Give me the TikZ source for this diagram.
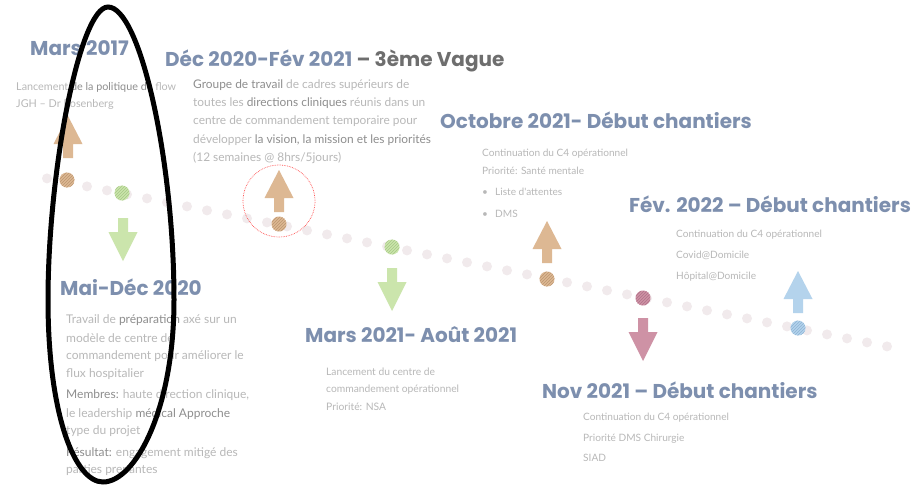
\documentclass[tikz,border=0pt]{standalone}
\usepackage{fontspec}
\newfontfamily\titlef{Poppins}
\newfontfamily\bodyf{Lato}
\usetikzlibrary{patterns}
\definecolor{titlec}{HTML}{7D8FAE}
\definecolor{titled}{HTML}{6E6E6E}
\definecolor{bodyc}{HTML}{B8B8B8}
\definecolor{bodyd}{HTML}{8E8E8E}
\definecolor{dotc}{HTML}{F1EAEC}
\definecolor{brownc}{HTML}{DDB893}
\definecolor{brownd}{HTML}{BC9670}
\definecolor{greenc}{HTML}{CBE5AC}
\definecolor{greend}{HTML}{A6C885}
\definecolor{crimc}{HTML}{CE92A5}
\definecolor{crimd}{HTML}{B0728A}
\definecolor{bluec}{HTML}{B4D3EC}
\definecolor{blued}{HTML}{8EB4D4}
\tikzset{
  ttl/.style={font=\titlef\bfseries\fontsize{20}{22}\selectfont, text=titlec, anchor=base west, inner sep=0pt},
  bdy/.style={font=\bodyf\fontsize{#1}{14}\selectfont, text=bodyc, anchor=base west, inner sep=0pt},
  bdy/.default=11,
  uparr/.pic={\path[pic actions] (-5,0) -- (-5,-14) -- (-14.5,-14) -- (0,-42) -- (14.5,-14) -- (5,-14) -- (5,0) -- cycle;},
  dnarr/.pic={\path[pic actions] (-5,0) -- (-5,14) -- (-14.5,14) -- (0,43) -- (14.5,14) -- (5,14) -- (5,0) -- cycle;},
  hatch/.style={fill=#1c, postaction={pattern=north east lines, pattern color=#1d}},
}
\newcommand\dk[1]{\textcolor{bodyd}{#1}}
\begin{document}
\begin{tikzpicture}[x=1pt,y=-1pt]
\useasboundingbox (0,0) rectangle (920,485);
\fill[white] (0,0) rectangle (920,485);

% dotted timeline
\foreach \k in {0,...,42}{
  \pgfmathsetmacro\xx{47+20*\k}
  \pgfmathsetmacro\yy{178+0.2*(\xx-45)}
  \fill[dotc] (\xx,\yy) circle (5pt);
}

% milestone dots
\fill[hatch=brown] (67,180) circle (7.5pt);
\fill[hatch=green] (122,193) circle (7.5pt);
\fill[hatch=brown] (279,224) circle (7.5pt);
\fill[hatch=green] (392,247) circle (7.5pt);
\fill[hatch=brown] (547,279) circle (7.5pt);
\fill[hatch=crim] (643,298) circle (7.5pt);
\fill[hatch=blue] (798,328) circle (7.5pt);

% arrows
\pic[hatch=brown] at (68,158) {uparr};
\pic[hatch=green] at (123,218) {dnarr};
\pic[hatch=brown] at (279,212) {uparr};
\pic[hatch=green] at (392,268) {dnarr};
\pic[hatch=brown] at (547,263) {uparr};
\pic[hatch=crim] at (643,318) {dnarr};
\pic[hatch=blue] at (798,313) {uparr};

% red dashed circle
\draw[red!70, densely dotted, line width=0.7pt] (279,201) circle (36pt);

% titles
\node[ttl] (t1) at (30,55) {Mars 2017};
\node[ttl] (t2) at (165,66) {Déc 2020-Fév 2021 \textcolor{titled}{– 3ème Vague}};
\node[ttl] (t3) at (440,128) {Octobre 2021- Début chantiers};
\node[ttl] (t4) at (629,212) {Fév. 2022 – Début chantiers};
\node[ttl] (t5) at (60,295) {Mai-Déc 2020};
\node[ttl] (t6) at (305,342) {Mars 2021- Août 2021};
\node[ttl] (t7) at (542,398) {Nov 2021 – Début chantiers};

% Mars 2017
\node[bdy=10.8] (a1) at (16,90) {Lancement \dk{de la politique de} flow};
\node[bdy=10.8] (a2) at (16,107) {JGH – Dr Rosenberg};

% Déc 2020
\node[bdy=11.9] (b1) at (193,88) {\dk{Groupe de travail} de cadres supérieurs de};
\node[bdy=11.9] (b2) at (193,106) {toutes les \dk{directions cliniques} réunis dans un};
\node[bdy=11.9] (b3) at (193,124) {centre de commandement temporaire pour};
\node[bdy=11.9] (b4) at (193,143) {développer \dk{la vision, la mission et les priorités}};
\node[bdy=11.9] (b5) at (193,161) {(12 semaines @ 8hrs/5jours)};

% Octobre 2021
\node[bdy=10.1] (c1) at (482,156) {Continuation du C4 opérationnel};
\node[bdy=10.1] (c2) at (482,174) {Priorité: Santé mentale};
\node[bdy=10.1] (c3b) at (482,195) {•};
\node[bdy=10.1] (c3) at (495,195) {Liste d'attentes};
\node[bdy=10.1] (c4b) at (482,217) {•};
\node[bdy=10.1] (c4) at (495,217) {DMS};

% Fév 2022
\node[bdy=10.1] (d1) at (676,237) {Continuation du C4 opérationnel};
\node[bdy=10.1] (d2) at (676,258) {Covid@Domicile};
\node[bdy=10.1] (d3) at (676,279) {Hôpital@Domicile};

% Mai-Déc 2020
\node[bdy=12] (e1) at (66,323) {Travail de \dk{préparation} axé sur un};
\node[bdy=12] (e2) at (66,342) {modèle de centre de};
\node[bdy=12] (e3) at (66,359) {commandement pour améliorer le};
\node[bdy=12] (e4) at (66,377) {flux hospitalier};
\node[bdy=12] (e5) at (66,398) {\dk{Membres:} haute direction clinique,};
\node[bdy=12] (e6) at (66,417) {le leadership \dk{médical Approche}};
\node[bdy=12] (e7) at (66,434) {type du projet};
\node[bdy=12] (e8) at (66,456) {\dk{Résultat:} engagement mitigé des};
\node[bdy=12] (e9) at (66,473) {parties prenantes};

% Mars 2021
\node[bdy=10.3] (f1) at (326,375) {Lancement du centre de};
\node[bdy=10.3] (f2) at (326,392) {commandement opérationnel};
\node[bdy=10.3] (f3) at (326,410) {Priorité: NSA};

% Nov 2021
\node[bdy=10.1] (g1) at (583,420) {Continuation du C4 opérationnel};
\node[bdy=10.1] (g2) at (583,441) {Priorité DMS Chirurgie};
\node[bdy=10.1] (g3) at (583,461) {SIAD};

% black highlight loop
\draw[black, line width=5pt] (108,7) .. controls (140,7) and (174,160) .. (174,300)
  .. controls (174,410) and (135,482) .. (103,482)
  .. controls (75,482) and (48,415) .. (48,300)
  .. controls (48,170) and (80,7) .. (108,7) -- cycle;
\end{tikzpicture}
\end{document}
